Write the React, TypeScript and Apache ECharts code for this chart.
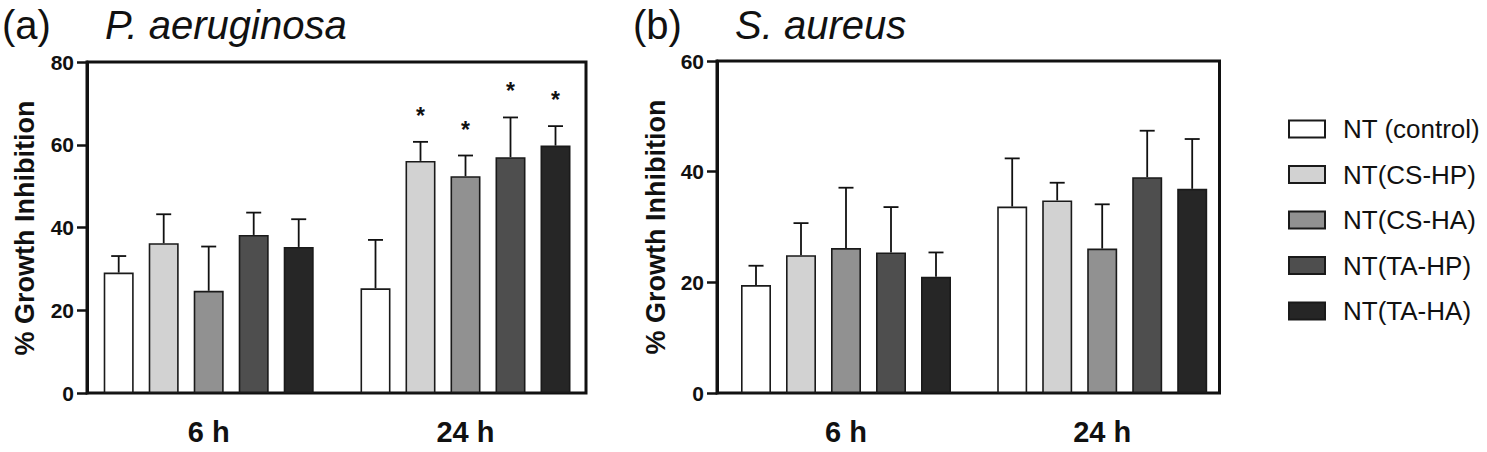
import React, { useEffect, useRef } from "react";
import * as echarts from "echarts";

const FONT = "'Liberation Sans', Arial, Helvetica, sans-serif";

const categories = ["6 h", "24 h"];
const seriesNames = ["NT (control)", "NT(CS-HP)", "NT(CS-HA)", "NT(TA-HP)", "NT(TA-HA)"];
const barColors = ["#ffffff", "#d2d2d2", "#919191", "#4e4e4e", "#262626"];

// (a) P. aeruginosa
const paMean6h = [29.1, 36.2, 24.7, 38.2, 35.3];
const paErr6h = [4.0, 7.0, 10.7, 5.4, 6.7];
const paMean24h = [25.3, 56.1, 52.4, 57.0, 59.8];
const paErr24h = [11.7, 4.6, 5.0, 9.6, 4.7];
const paSig6h = [0, 0, 0, 0, 0];
const paSig24h = [0, 1, 1, 1, 1];
const paAxisMax = 80;

// (b) S. aureus
const saMean6h = [19.5, 24.9, 26.2, 25.4, 21.0];
const saErr6h = [3.5, 5.8, 10.9, 8.2, 4.4];
const saMean24h = [33.7, 34.8, 26.1, 39.0, 36.9];
const saErr24h = [8.7, 3.2, 8.0, 8.4, 9.0];
const saSig6h = [0, 0, 0, 0, 0];
const saSig24h = [0, 0, 0, 0, 0];
const saAxisMax = 60;

const yTickInterval = 20;

const BAR_W = 30;
const BAR_GAP = 15;

function errRender(params: any, api: any) {
  const cat = api.value(0);
  const s = api.value(1);
  const mean = api.value(2);
  const err = api.value(3);
  const sig = api.value(4);
  const base = api.coord([cat, mean]);
  const top = api.coord([cat, mean + err]);
  const x = base[0] + (s - 2) * (BAR_W + BAR_GAP);
  const half = BAR_W / 4;
  const lineStyle = { stroke: "#111", lineWidth: 1.8 };
  const children: any[] = [
    { type: "line", shape: { x1: x, y1: base[1], x2: x, y2: top[1] }, style: lineStyle },
    { type: "line", shape: { x1: x - half, y1: top[1], x2: x + half, y2: top[1] }, style: lineStyle },
  ];
  if (sig) {
    children.push({
      type: "text",
      x: x,
      y: top[1] - 26,
      style: {
        text: "*",
        fontSize: 23,
        fontWeight: "bold",
        fontFamily: FONT,
        fill: "#111",
        align: "center",
        verticalAlign: "middle",
      },
    });
  }
  return { type: "group", children };
}

function panelSeries(
  barGridIdx: number,
  mean6: number[],
  err6: number[],
  mean24: number[],
  err24: number[],
  sig6: number[],
  sig24: number[]
) {
  const out: any[] = seriesNames.map((name, i) => ({
    name,
    type: "bar",
    xAxisIndex: barGridIdx,
    yAxisIndex: barGridIdx,
    barWidth: BAR_W,
    barGap: (BAR_GAP / BAR_W) * 100 + "%",
    data: [mean6[i], mean24[i]],
    itemStyle: { color: barColors[i], borderColor: "#1a1a1a", borderWidth: 1.6 },
    emphasis: { disabled: true },
  }));
  const errData: number[][] = [];
  seriesNames.forEach((_, i) => errData.push([0, i, mean6[i], err6[i], sig6[i]]));
  seriesNames.forEach((_, i) => errData.push([1, i, mean24[i], err24[i], sig24[i]]));
  out.push({
    type: "custom",
    xAxisIndex: barGridIdx,
    yAxisIndex: barGridIdx,
    renderItem: errRender,
    encode: { x: 0, y: 2 },
    data: errData,
    z: 5,
    silent: true,
  });
  return out;
}

function frameYAxis(gridIndex: number, max: number) {
  return {
    gridIndex,
    type: "value",
    min: 0,
    max,
    interval: yTickInterval,
    axisLine: { show: true, lineStyle: { color: "#111", width: 3 } },
    axisTick: { show: true, length: 10, lineStyle: { color: "#111", width: 2.5 } },
    axisLabel: { margin: 13, fontSize: 21, fontWeight: "bold", color: "#111", fontFamily: FONT },
    splitLine: { show: false },
  };
}

function barYAxis(gridIndex: number, max: number) {
  return { gridIndex, type: "value", min: 0, max, interval: yTickInterval, show: false, splitLine: { show: false } };
}

function barXAxis(gridIndex: number) {
  return {
    gridIndex,
    type: "category",
    data: categories,
    axisLine: { show: false },
    axisTick: { show: false },
    axisLabel: { margin: 24, fontSize: 29, fontWeight: "bold", color: "#111", fontFamily: FONT },
  };
}

export default function App() {
  const ref = useRef<HTMLDivElement>(null);
  useEffect(() => {
    if (!ref.current) return;
    const chart = echarts.init(ref.current, undefined, { renderer: "svg" });
    const frame = { show: true, borderColor: "#111", borderWidth: 3, backgroundColor: "transparent" };
    const option: any = {
      animation: false,
      backgroundColor: "#ffffff",
      textStyle: { fontFamily: FONT },
      grid: [
        { left: 87, top: 62, width: 499, height: 331, ...frame },
        { left: 80.3, top: 62, width: 513.6, height: 331 },
        { left: 717, top: 61, width: 502.5, height: 332, ...frame },
        { left: 717.9, top: 61, width: 512.4, height: 332 },
      ],
      xAxis: [
        { gridIndex: 0, type: "value", show: false },
        barXAxis(1),
        { gridIndex: 2, type: "value", show: false },
        barXAxis(3),
      ],
      yAxis: [frameYAxis(0, paAxisMax), barYAxis(1, paAxisMax), frameYAxis(2, saAxisMax), barYAxis(3, saAxisMax)],
      legend: {
        data: seriesNames,
        orient: "vertical",
        left: 1283,
        top: 110,
        itemWidth: 36,
        itemHeight: 17,
        itemGap: 17.5,
        icon: "rect",
        selectedMode: false,
        textStyle: { fontSize: 26, lineHeight: 28, color: "#111", fontFamily: FONT, padding: [0, 0, 0, 13] },
      },
      graphic: [
        { type: "text", left: 2, top: 5, style: { text: "(a)", fontSize: 40, fontFamily: FONT, fill: "#111" } },
        {
          type: "text",
          left: 105,
          top: 5,
          style: { text: "P. aeruginosa", fontSize: 40, fontStyle: "italic", fontFamily: FONT, fill: "#111" },
        },
        { type: "text", left: 633, top: 5, style: { text: "(b)", fontSize: 40, fontFamily: FONT, fill: "#111" } },
        {
          type: "text",
          left: 735,
          top: 5,
          style: { text: "S. aureus", fontSize: 40, fontStyle: "italic", fontFamily: FONT, fill: "#111" },
        },
        {
          type: "text",
          x: 25,
          y: 228,
          rotation: Math.PI / 2,
          style: {
            text: "% Growth Inhibition",
            fontSize: 27,
            fontWeight: "bold",
            fontFamily: FONT,
            fill: "#111",
            align: "center",
            verticalAlign: "middle",
          },
        },
        {
          type: "text",
          x: 656,
          y: 227,
          rotation: Math.PI / 2,
          style: {
            text: "% Growth Inhibition",
            fontSize: 27,
            fontWeight: "bold",
            fontFamily: FONT,
            fill: "#111",
            align: "center",
            verticalAlign: "middle",
          },
        },
      ],
      series: [
        ...panelSeries(1, paMean6h, paErr6h, paMean24h, paErr24h, paSig6h, paSig24h),
        ...panelSeries(3, saMean6h, saErr6h, saMean24h, saErr24h, saSig6h, saSig24h),
      ],
    };
    chart.setOption(option);
    return () => chart.dispose();
  }, []);
  return <div ref={ref} style={{ position: "fixed", left: 0, top: 0, width: 1487, height: 452 }} />;
}
